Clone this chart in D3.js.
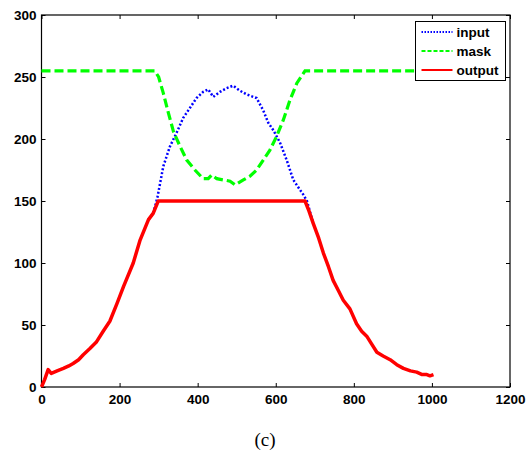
<!DOCTYPE html>
<html>
<head>
<meta charset="utf-8">
<script src="https://cdn.jsdelivr.net/npm/d3@7"></script>
<style>
  body { margin: 0; background: #fff; }
</style>
</head>
<body>
<script>
// values
var outputX = [0, 8, 17, 25, 40, 56, 70, 81, 95, 107, 124, 140, 158, 175, 193, 210, 235, 252, 274, 286, 299,
               675, 685, 696, 710, 722, 735, 747, 760, 773, 790, 807, 820, 833, 845, 859, 875, 893, 910, 927, 945, 961, 975, 987, 995, 1004];
var outputY = [0, 6, 14, 11, 13, 15, 17, 19, 22, 26, 31, 36, 45, 53, 67, 81, 100, 118, 135, 140, 150,
               150, 142, 132, 120, 108, 97, 86, 78, 70, 63, 51, 45, 41, 35, 28, 25, 22, 18, 15, 13, 12, 10, 10, 9, 10];

var inputX = [274, 286, 297, 312, 329, 346, 363, 380, 397, 414, 427, 440, 457, 474, 491, 508, 525, 551, 568, 581, 594, 611, 628, 645, 660, 671, 680, 696];
var inputY = [135, 140, 153, 178, 194, 205, 217, 225, 233, 238, 240, 234, 238, 241, 243, 239, 236, 233, 223, 213, 207, 197, 183, 167, 160, 155, 150, 132];

var maskX = [0, 290, 300, 312, 325, 338, 355, 372, 393, 414, 427, 436, 449, 466, 483, 496, 517, 534, 551, 568, 585, 602, 619, 636, 654, 675, 1005];
var maskY = [255, 255, 250, 237, 221, 206, 194, 183, 175, 168, 168, 171, 168, 167, 166, 163, 167, 170, 175, 183, 191, 202, 215, 231, 245, 255, 255];

var xTicks = [0, 200, 400, 600, 800, 1000, 1200];
var yTicks = [0, 50, 100, 150, 200, 250, 300];
var seriesNames = ["input", "mask", "output"];

var margin = {top: 15, right: 21, bottom: 81, left: 41.5};
var width = 531 - margin.left - margin.right;
var height = 468 - margin.top - margin.bottom;

var svg = d3.select("body").append("svg")
    .attr("width", 531)
    .attr("height", 468);

var g = svg.append("g")
    .attr("transform", "translate(" + margin.left + "," + margin.top + ")");

var x = d3.scaleLinear().domain([0, 1200]).range([0, width]);
var y = d3.scaleLinear().domain([0, 300]).range([height, 0]);

function styleAxis(s) {
  s.select(".domain").remove();
  s.selectAll("line").attr("stroke", "#000");
  s.selectAll("text")
      .attr("fill", "#000")
      .style("font-family", "'Liberation Sans', Arial, sans-serif")
      .style("font-weight", "bold")
      .style("font-size", "13.5px");
}

// ticks pointing inward on all four sides
g.append("g")
    .attr("transform", "translate(0," + height + ")")
    .call(d3.axisBottom(x).tickValues(xTicks).tickFormat(d3.format("d")).tickSizeInner(-4).tickSizeOuter(0).tickPadding(7))
    .call(styleAxis);
g.append("g")
    .call(d3.axisTop(x).tickValues(xTicks).tickSizeInner(-4).tickSizeOuter(0).tickFormat(""))
    .call(styleAxis);
g.append("g")
    .call(d3.axisLeft(y).tickValues(yTicks).tickSizeInner(-4).tickSizeOuter(0).tickPadding(5))
    .call(styleAxis);
g.append("g")
    .attr("transform", "translate(" + width + ",0)")
    .call(d3.axisRight(y).tickValues(yTicks).tickSizeInner(-4).tickSizeOuter(0).tickFormat(""))
    .call(styleAxis);

g.append("rect")
    .attr("width", width)
    .attr("height", height)
    .attr("fill", "none")
    .attr("stroke", "#000")
    .attr("stroke-width", 1.2);

var line = d3.line()
    .x(function(d) { return x(d[0]); })
    .y(function(d) { return y(d[1]); });

function pairs(xs, ys) { return xs.map(function(v, i) { return [v, ys[i]]; }); }

var styles = {
  input:  {color: "#0000ff", width: 2.5, dash: "2,2"},
  mask:   {color: "#00ff00", width: 3.2, dash: "9,4"},
  output: {color: "#ff0000", width: 3.5, dash: null}
};

g.append("path").datum(pairs(inputX, inputY))
    .attr("d", line).attr("fill", "none")
    .attr("stroke", styles.input.color).attr("stroke-width", styles.input.width)
    .attr("stroke-dasharray", styles.input.dash);
g.append("path").datum(pairs(maskX, maskY))
    .attr("d", line).attr("fill", "none")
    .attr("stroke", styles.mask.color).attr("stroke-width", styles.mask.width)
    .attr("stroke-dasharray", styles.mask.dash);
g.append("path").datum(pairs(outputX, outputY))
    .attr("d", line).attr("fill", "none")
    .attr("stroke", styles.output.color).attr("stroke-width", styles.output.width)
    .attr("stroke-linejoin", "round");

// legend
var legend = svg.append("g")
    .attr("transform", "translate(415.5,21.5)");
legend.append("rect")
    .attr("width", 90).attr("height", 59)
    .attr("fill", "#fff").attr("stroke", "#000");
var item = legend.selectAll(".item").data(seriesNames)
  .enter().append("g")
    .attr("transform", function(d, i) { return "translate(0," + (10.5 + i * 19) + ")"; });
item.append("line")
    .attr("x1", 6).attr("x2", 37)
    .attr("stroke", function(d) { return styles[d].color; })
    .attr("stroke-width", 2)
    .attr("stroke-dasharray", function(d) { return d === "input" ? "1.5,1.5" : d === "mask" ? "4,2" : null; });
item.append("text")
    .attr("x", 41).attr("y", 5)
    .style("font-family", "'Liberation Sans', Arial, sans-serif")
    .style("font-weight", "bold")
    .style("font-size", "13.5px")
    .text(function(d) { return d; });

svg.append("text")
    .attr("x", 265).attr("y", 446)
    .attr("text-anchor", "middle")
    .style("font-family", "'Liberation Serif', 'Times New Roman', serif")
    .style("font-size", "19px")
    .text("(c)");
</script>
</body>
</html>
